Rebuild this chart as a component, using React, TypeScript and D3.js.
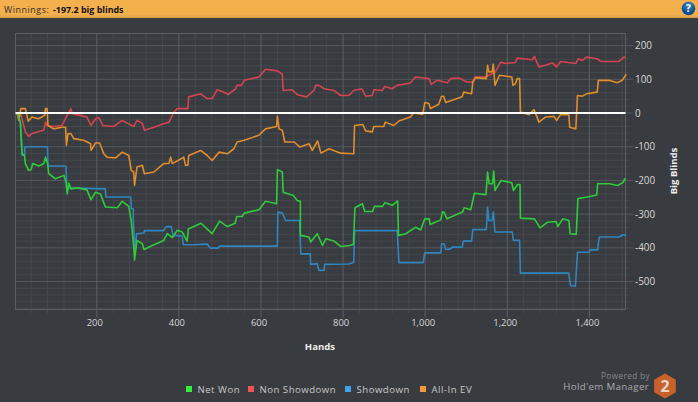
import { useRef, useEffect } from "react";
import * as d3 from "d3";

type Pt = [number, number];

const netWon: Pt[] = [[6,0],[14,-27],[18,-121],[24,-126],[26,-150],[34,-170],[40,-168],[44,-150],[59,-157],[71,-150],[75,-131],[80,-150],[83,-180],[99,-195],[120,-185],[125,-205],[128,-240],[132,-208],[137,-225],[153,-222],[176,-228],[186,-257],[197,-235],[209,-240],[221,-279],[250,-281],[262,-262],[278,-277],[284,-319],[290,-398],[292,-436],[298,-378],[311,-388],[315,-405],[335,-393],[363,-378],[372,-358],[384,-370],[396,-348],[408,-353],[420,-380],[423,-344],[454,-327],[481,-358],[499,-321],[518,-337],[537,-327],[541,-307],[554,-307],[559,-297],[595,-287],[611,-262],[638,-269],[640,-168],[652,-175],[654,-235],[679,-245],[689,-260],[696,-262],[696,-363],[717,-368],[721,-383],[737,-358],[750,-393],[758,-373],[778,-380],[794,-396],[815,-393],[825,-390],[829,-281],[847,-269],[853,-292],[872,-292],[876,-277],[896,-277],[902,-266],[920,-274],[933,-261],[935,-363],[953,-358],[977,-339],[989,-347],[999,-314],[1010,-314],[1012,-331],[1038,-317],[1042,-294],[1046,-294],[1053,-314],[1091,-294],[1095,-281],[1111,-287],[1120,-238],[1148,-242],[1152,-175],[1156,-210],[1164,-210],[1167,-172],[1170,-230],[1185,-200],[1211,-207],[1215,-230],[1225,-212],[1231,-212],[1232,-312],[1266,-314],[1280,-341],[1298,-324],[1319,-322],[1323,-337],[1335,-314],[1350,-319],[1353,-358],[1368,-360],[1372,-254],[1392,-250],[1418,-243],[1420,-210],[1449,-210],[1469,-215],[1481,-207],[1487,-195],[1489,-195]];

const nonShowdown: Pt[] = [[6,0],[14,0],[20,-27],[26,-56],[34,-69],[42,-61],[54,-56],[71,-51],[75,-27],[79,-37],[95,-40],[115,-37],[128,-7],[137,13],[140,-2],[160,-7],[176,-12],[186,-37],[197,-17],[205,-14],[215,-37],[241,-40],[262,-22],[274,-30],[290,-40],[298,-22],[311,-30],[316,-51],[339,-42],[363,-32],[376,-27],[388,3],[396,13],[422,13],[424,48],[453,57],[469,43],[481,43],[493,69],[510,62],[520,55],[538,72],[542,82],[552,82],[559,97],[595,107],[611,130],[640,125],[652,115],[654,67],[676,69],[689,54],[711,48],[729,67],[733,82],[741,82],[754,72],[778,67],[794,52],[814,52],[826,67],[846,72],[855,50],[871,52],[875,69],[895,67],[902,79],[919,72],[932,82],[964,89],[976,107],[1009,102],[1015,85],[1029,97],[1054,90],[1062,102],[1082,104],[1102,92],[1116,92],[1121,107],[1147,107],[1171,122],[1184,151],[1196,147],[1220,150],[1224,163],[1261,158],[1266,168],[1277,137],[1293,142],[1310,149],[1320,137],[1330,153],[1367,147],[1373,161],[1383,156],[1393,166],[1419,161],[1428,153],[1456,153],[1472,153],[1484,166],[1489,164]];

const showdown: Pt[] = [[6,0],[14,-30],[18,-125],[24,-126],[25,-100],[80,-100],[81,-157],[125,-157],[127,-222],[221,-225],[222,-249],[283,-249],[284,-284],[289,-284],[289,-319],[293,-410],[297,-358],[315,-356],[316,-349],[363,-349],[369,-337],[381,-337],[386,-363],[408,-365],[411,-391],[433,-391],[469,-389],[477,-401],[495,-401],[499,-395],[640,-395],[641,-294],[652,-297],[660,-319],[694,-319],[697,-418],[720,-418],[721,-449],[737,-447],[741,-467],[754,-467],[755,-449],[814,-448],[826,-443],[828,-349],[932,-349],[936,-444],[995,-444],[999,-415],[1038,-415],[1040,-388],[1046,-388],[1050,-405],[1062,-403],[1066,-398],[1090,-398],[1093,-380],[1113,-380],[1116,-346],[1149,-346],[1152,-279],[1155,-319],[1163,-319],[1166,-294],[1170,-353],[1212,-353],[1215,-378],[1230,-378],[1232,-475],[1350,-475],[1354,-512],[1366,-514],[1371,-413],[1399,-413],[1402,-406],[1420,-406],[1424,-368],[1472,-368],[1482,-361],[1490,-363]];

const allInEv: Pt[] = [[6,0],[10,-22],[15,13],[26,13],[33,-24],[42,-12],[58,-17],[73,-7],[75,13],[79,13],[81,-37],[95,-47],[115,-42],[124,-42],[126,-96],[130,-61],[137,-61],[144,-76],[168,-81],[185,-91],[186,-111],[197,-89],[207,-89],[217,-121],[225,-131],[246,-133],[262,-116],[278,-126],[284,-170],[290,-175],[292,-215],[298,-160],[311,-155],[316,-180],[339,-175],[363,-150],[376,-149],[380,-131],[384,-150],[412,-131],[416,-155],[422,-155],[424,-126],[453,-111],[469,-126],[481,-141],[498,-116],[518,-121],[534,-106],[542,-86],[559,-81],[595,-66],[611,-47],[638,-40],[640,-9],[644,-47],[652,-51],[658,-86],[681,-86],[695,-101],[717,-91],[725,-111],[738,-83],[746,-119],[766,-106],[794,-119],[826,-121],[828,-37],[848,-34],[855,-53],[871,-56],[875,-40],[899,-40],[903,-27],[923,-37],[936,-24],[964,-12],[972,0],[994,-4],[999,31],[1009,28],[1013,13],[1033,26],[1040,50],[1045,50],[1050,31],[1090,48],[1094,62],[1113,57],[1116,92],[1123,105],[1149,102],[1152,142],[1155,122],[1163,122],[1166,145],[1170,82],[1181,112],[1211,107],[1214,82],[1220,87],[1224,102],[1230,102],[1232,3],[1253,-5],[1265,10],[1271,-7],[1277,-27],[1293,-12],[1314,-10],[1320,-22],[1330,-4],[1350,-5],[1352,-42],[1367,-47],[1371,52],[1383,50],[1393,57],[1419,62],[1422,97],[1448,97],[1468,90],[1480,97],[1490,115]];

const xMajor = [200, 400, 600, 800, 1000, 1200, 1400];
const xMinor = [40, 80, 120, 160, 240, 280, 320, 360, 440, 480, 520, 560, 640, 680, 720, 760, 840, 880, 920, 960, 1040, 1080, 1120, 1160, 1240, 1280, 1320, 1360, 1440, 1480];
const yMajor = [200, 100, 0, -100, -200, -300, -400, -500];
const yMinor = [220, 180, 160, 140, 120, 80, 60, 40, 20, -20, -40, -60, -80, -120, -140, -160, -180, -220, -240, -260, -280, -320, -340, -360, -380, -420, -440, -460, -480, -520, -540, -560, -580];

const W = 698;
const H = 402;
const FONT = "'Open Sans', 'Noto Sans', sans-serif";

const series: { name: string; data: Pt[]; line: string; swatch: string; lx: number }[] = [
    { name: "Showdown", data: showdown, line: "#2f86bf", swatch: "#3fa4ea", lx: 345 },
    { name: "Non Showdown", data: nonShowdown, line: "#d4444e", swatch: "#f55353", lx: 248 },
    { name: "All-In EV", data: allInEv, line: "#e08d2c", swatch: "#f79a35", lx: 420 },
    { name: "Net Won", data: netWon, line: "#2ecb3b", swatch: "#33f040", lx: 186 },
];

export default function App() {
    const svgRef = useRef<SVGSVGElement | null>(null);

    useEffect(() => {
        if (!svgRef.current) return;
        const svg = d3.select(svgRef.current);
        svg.selectAll("*").remove();

        const left = 15.5, right = 625.5, top = 33.5, bottom = 309.5;
        const x = d3.scaleLinear().domain([2, 1488]).range([left, right]);
        const y = d3.scaleLinear().domain([236, -583]).range([top, bottom]);

        const defs = svg.append("defs");
        const grad = defs.append("linearGradient").attr("id", "hdr").attr("x1", 0).attr("x2", 0).attr("y1", 0).attr("y2", 1);
        grad.append("stop").attr("offset", "0%").attr("stop-color", "#f4b04d");
        grad.append("stop").attr("offset", "80%").attr("stop-color", "#f4b04d");
        grad.append("stop").attr("offset", "100%").attr("stop-color", "#d89c48");
        const ball = defs.append("radialGradient").attr("id", "ball").attr("cy", "30%");
        ball.append("stop").attr("offset", "0%").attr("stop-color", "#3f8fd0");
        ball.append("stop").attr("offset", "100%").attr("stop-color", "#0f4f8c");

        svg.append("rect").attr("width", W).attr("height", H).attr("fill", "#383b3f");

        // Header
        svg.append("rect").attr("width", W).attr("height", 18).attr("fill", "url(#hdr)");
        const title = svg.append("text").attr("x", 4).attr("y", 12.5).attr("font-size", 8.8).attr("font-family", FONT).attr("fill", "#2a2a2a");
        title.append("tspan").attr("letter-spacing", 0.6).text("Winnings:");
        title.append("tspan").attr("x", 53).attr("font-size", 8.9).attr("font-weight", 700).attr("fill", "#111").text("-197.2 big blinds");
        svg.append("circle").attr("cx", 688.5).attr("cy", 8.5).attr("r", 6.8).attr("fill", "url(#ball)");
        svg.append("text").attr("x", 688.5).attr("y", 12).attr("text-anchor", "middle").attr("font-size", 10)
            .attr("font-weight", 700).attr("font-family", FONT).attr("fill", "#fff").text("?");

        // Grid
        const grid = svg.append("g").attr("fill", "none");
        grid.selectAll(".ymin").data(yMinor).enter().append("line")
            .attr("x1", left).attr("x2", right + 4).attr("y1", d => y(d)).attr("y2", d => y(d))
            .attr("stroke", "#45484c");
        grid.selectAll(".xmin").data(xMinor).enter().append("line")
            .attr("x1", d => x(d)).attr("x2", d => x(d)).attr("y1", top).attr("y2", bottom + 4)
            .attr("stroke", "#45484c");
        grid.selectAll(".ymaj").data(yMajor).enter().append("line")
            .attr("x1", left).attr("x2", right + 8).attr("y1", d => y(d)).attr("y2", d => y(d))
            .attr("stroke", "#54575b");
        grid.selectAll(".xmaj").data(xMajor).enter().append("line")
            .attr("x1", d => x(d)).attr("x2", d => x(d)).attr("y1", top).attr("y2", bottom + 8)
            .attr("stroke", "#5c5f63");
        grid.append("rect").attr("x", left).attr("y", top).attr("width", right - left).attr("height", bottom - top)
            .attr("stroke", "#5a5d61");

        // Series
        const line = d3.line<Pt>().x(d => x(d[0])).y(d => y(d[1])).curve(d3.curveLinear);
        series.forEach(s => {
            svg.append("path").attr("d", line(s.data)).attr("fill", "none")
                .attr("stroke", s.line).attr("stroke-width", 1.6).attr("stroke-linejoin", "round");
        });

        // Zero line
        svg.append("line").attr("x1", left).attr("x2", right).attr("y1", y(0)).attr("y2", y(0))
            .attr("stroke", "#fff").attr("stroke-width", 2);

        // Tick labels
        const labels = svg.append("g").attr("font-family", FONT).attr("fill", "#d8d8d8");
        labels.selectAll(".xl").data(xMajor).enter().append("text")
            .attr("x", d => x(d) - 2).attr("y", 326).attr("text-anchor", "middle").attr("font-size", 9.4)
            .text(d => d3.format(",")(d));
        labels.selectAll(".yl").data(yMajor).enter().append("text")
            .attr("x", 635).attr("y", d => y(d) + 3.6).attr("font-size", 9.9)
            .text(d => d);

        svg.append("text").attr("x", 320).attr("y", 350).attr("text-anchor", "middle").attr("font-size", 9.6)
            .attr("font-weight", 700).attr("font-family", FONT).attr("fill", "#eee").text("Hands");
        svg.append("text").attr("transform", "translate(677,171) rotate(-90)").attr("text-anchor", "middle")
            .attr("font-size", 9.6).attr("font-weight", 700).attr("font-family", FONT).attr("fill", "#eee").text("Big Blinds");

        // Legend
        const legend = svg.append("g").attr("font-family", FONT).attr("font-size", 9.6).attr("fill", "#c8c8c8");
        series.forEach(s => {
            legend.append("rect").attr("x", s.lx).attr("y", 386).attr("width", 6).attr("height", 6).attr("fill", s.swatch);
            legend.append("text").attr("x", s.lx + 11.5).attr("y", 392.5).attr("letter-spacing", 0.5).text(s.name);
        });

        // Logo
        svg.append("text").attr("x", 650).attr("y", 379).attr("text-anchor", "end").attr("font-size", 8.2)
            .attr("font-family", FONT).attr("fill", "#85888b").attr("letter-spacing", 0.4).text("Powered by");
        svg.append("text").attr("x", 649).attr("y", 390).attr("text-anchor", "end").attr("font-size", 9.7)
            .attr("font-family", FONT).attr("fill", "#a8abae").attr("letter-spacing", 0.35).text("Hold'em Manager");
        const hex = d3.range(6).map(i => {
            const a = Math.PI / 3 * i - Math.PI / 2;
            return [665 + 12.5 * Math.cos(a), 386 + 12.5 * Math.sin(a)] as [number, number];
        });
        svg.append("polygon").attr("points", hex.map(p => p.join(",")).join(" ")).attr("fill", "#c8622a");
        svg.append("text").attr("x", 665).attr("y", 392).attr("text-anchor", "middle").attr("font-size", 16)
            .attr("font-weight", 700).attr("font-family", FONT).attr("fill", "#e6d8cf").text("2");
    }, []);

    return (
        <svg
            ref={svgRef}
            width={W}
            height={H}
            style={{ position: "absolute", left: 0, top: 0, display: "block" }}
        />
    );
}
